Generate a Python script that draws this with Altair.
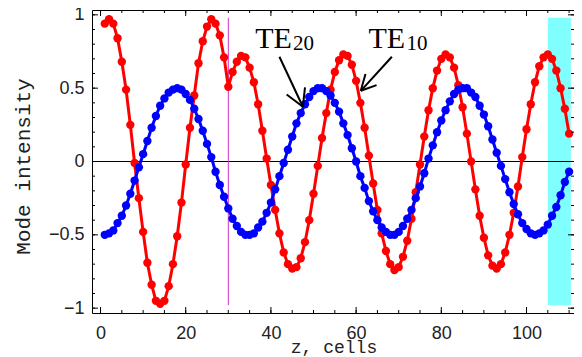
import altair as alt
import pandas as pd

# ---------------- data ----------------
z_cells = list(range(1, 111))

te10 = [0.94, 0.97, 0.94, 0.84, 0.68, 0.49, 0.25, -0.01, -0.25, -0.48,
        -0.69, -0.84, -0.95, -0.97, -0.95, -0.85, -0.70, -0.51, -0.28, -0.02,
        0.23, 0.45, 0.67, 0.82, 0.92, 0.97, 0.94, 0.86, 0.71, 0.51,
        0.61, 0.68, 0.72, 0.71, 0.64, 0.54, 0.39, 0.21, 0.02, -0.16,
        -0.33, -0.49, -0.62, -0.70, -0.73, -0.72, -0.66, -0.55, -0.40, -0.22,
        -0.03, 0.16, 0.33, 0.49, 0.61, 0.69, 0.73, 0.72, 0.66, 0.55,
        0.40, 0.23, 0.04, -0.15, -0.33, -0.49, -0.61, -0.70, -0.74, -0.72,
        -0.65, -0.54, -0.39, -0.21, -0.02, 0.17, 0.35, 0.50, 0.62, 0.70,
        0.73, 0.71, 0.64, 0.52, 0.37, 0.19, 0.00, -0.19, -0.37, -0.52,
        -0.64, -0.71, -0.73, -0.70, -0.62, -0.50, -0.35, -0.17, 0.03, 0.22,
        0.39, 0.54, 0.65, 0.71, 0.73, 0.70, 0.62, 0.50, 0.36, 0.19]

te20 = [-0.50, -0.49, -0.47, -0.42, -0.37, -0.30, -0.22, -0.13, -0.04, 0.05,
        0.14, 0.23, 0.31, 0.38, 0.43, 0.47, 0.49, 0.50, 0.49, 0.46,
        0.42, 0.36, 0.29, 0.21, 0.12, 0.03, -0.07, -0.16, -0.24, -0.32,
        -0.39, -0.44, -0.48, -0.50, -0.50, -0.49, -0.45, -0.41, -0.35, -0.28,
        -0.19, -0.10, -0.01, 0.08, 0.17, 0.26, 0.33, 0.39, 0.44, 0.48,
        0.50, 0.50, 0.48, 0.45, 0.40, 0.34, 0.26, 0.18, 0.09, 0.00,
        -0.10, -0.18, -0.27, -0.34, -0.40, -0.45, -0.48, -0.50, -0.50, -0.48,
        -0.44, -0.39, -0.33, -0.25, -0.17, -0.08, 0.02, 0.11, 0.20, 0.28,
        0.35, 0.41, 0.46, 0.49, 0.50, 0.50, 0.47, 0.44, 0.38, 0.32,
        0.24, 0.15, 0.06, -0.03, -0.12, -0.21, -0.29, -0.36, -0.42, -0.46,
        -0.49, -0.50, -0.49, -0.47, -0.43, -0.37, -0.31, -0.23, -0.14, -0.07]

x_major = [0, 20, 40, 60, 80, 100]
x_minor = [0, 5, 10, 15, 20, 25, 30, 35, 40, 45, 50, 55, 60, 65, 70, 75, 80,
           85, 90, 95, 100, 105, 110]
y_major = [-1, -0.5, 0, 0.5, 1]
y_minor = [-1, -0.9, -0.8, -0.7, -0.6, -0.5, -0.4, -0.3, -0.2, -0.1, 0,
           0.1, 0.2, 0.3, 0.4, 0.5, 0.6, 0.7, 0.8, 0.9, 1]

marker_z = [30]
marker_v = [-0.98]
marker_v2 = [0.98]

band_z = [105]
band_z2 = [110.4]
band_v = [-0.98]
band_v2 = [0.98]

label_main = ["TE", "TE"]
label_main_z = [36.3, 62.9]
label_main_v = [0.771, 0.771]
label_sub = ["20", "10"]
label_sub_z = [45.2, 71.8]
label_sub_v = [0.76, 0.76]

# arrow segments (shaft + two head arms) for TE20 and TE10
arrow_z = [42.0, 47.5, 47.5, 68.4, 61.1, 61.1]
arrow_v = [0.714, 0.373, 0.373, 0.714, 0.482, 0.482]
arrow_z2 = [47.5, 43.7, 48.0, 61.1, 64.8, 62.2]
arrow_v2 = [0.373, 0.457, 0.505, 0.482, 0.521, 0.596]

# ---------------- chart ----------------
W, H = 482, 303
xs = alt.Scale(domain=[-2, 111.15], nice=False, zero=False)
ys = alt.Scale(domain=[-1.033, 1.033], nice=False, zero=False)

xaxis = alt.Axis(values=x_major, format="d", ticks=False, domain=False, grid=False,
                 labelFont="Liberation Sans", labelFontSize=18, labelColor="#222",
                 labelPadding=11, labelFlush=False,
                 title="z, cells", titleFont="Liberation Mono", titleFontSize=18,
                 titleFontWeight="normal", titleColor="#222",
                 titleAlign="center", titleBaseline="alphabetic",
                 titleX=241.5, titleY=39)
yaxis = alt.Axis(values=y_major, format="~g", ticks=False, domain=False, grid=False,
                 labelFont="Liberation Sans", labelFontSize=18, labelColor="#222",
                 labelPadding=8, labelFlush=False,
                 title="Mode intensity", titleFont="Liberation Mono", titleFontSize=21,
                 titleFontWeight="normal", titleColor="#222",
                 titleAlign="center", titleBaseline="middle", titleAngle=270,
                 titleX=-69, titleY=156)

X = alt.X("z:Q", scale=xs, axis=xaxis)
Y = alt.Y("v:Q", scale=ys, axis=yaxis)

df_red = pd.DataFrame({"z": z_cells, "v": te10})
df_blue = pd.DataFrame({"z": z_cells, "v": te20})

band = alt.Chart(pd.DataFrame({"z": band_z, "z2": band_z2, "v": band_v, "v2": band_v2})).mark_rect(
    color="#80ffff").encode(x=X, x2="z2:Q", y=Y, y2="v2:Q")

zero_line = alt.Chart(pd.DataFrame({"v": [0]})).mark_rule(color="black", strokeWidth=1).encode(y=Y)

marker = alt.Chart(pd.DataFrame({"z": marker_z, "v": marker_v, "v2": marker_v2})).mark_rule(
    color="#cc33cc", strokeWidth=1).encode(x=X, y=Y, y2="v2:Q")

red_line = alt.Chart(df_red).mark_line(color="#ff0000", strokeWidth=3).encode(x=X, y=Y)
red_pts = alt.Chart(df_red).mark_circle(color="#ff0000", size=70, opacity=1).encode(x=X, y=Y)
blue_line = alt.Chart(df_blue).mark_line(color="#0000ff", strokeWidth=3).encode(x=X, y=Y)
blue_pts = alt.Chart(df_blue).mark_circle(color="#0000ff", size=70, opacity=1).encode(x=X, y=Y)

arrows = alt.Chart(pd.DataFrame({"z": arrow_z, "v": arrow_v, "z2": arrow_z2, "v2": arrow_v2})).mark_rule(
    color="black", strokeWidth=2).encode(x=X, y=Y, x2="z2:Q", y2="v2:Q")

txt_main = alt.Chart(pd.DataFrame({"z": label_main_z, "v": label_main_v, "t": label_main})).mark_text(
    font="Liberation Serif", fontSize=30, align="left", baseline="alphabetic", color="black"
).encode(x=X, y=Y, text="t:N")
txt_sub = alt.Chart(pd.DataFrame({"z": label_sub_z, "v": label_sub_v, "t": label_sub})).mark_text(
    font="Liberation Serif", fontSize=21, align="left", baseline="alphabetic", color="black"
).encode(x=X, y=Y, text="t:N")

# inward frame ticks on all four sides
df_xmaj = pd.DataFrame({"z": x_major})
df_xmin = pd.DataFrame({"z": x_minor})
df_ymaj = pd.DataFrame({"v": y_major})
df_ymin = pd.DataFrame({"v": y_minor})
tk = dict(color="black", strokeWidth=1)
ticks = [
    alt.Chart(df_xmaj).mark_rule(**tk).encode(x=X, y=alt.value(H), y2=alt.value(H - 6)),
    alt.Chart(df_xmin).mark_rule(**tk).encode(x=X, y=alt.value(H), y2=alt.value(H - 3)),
    alt.Chart(df_xmaj).mark_rule(**tk).encode(x=X, y=alt.value(0), y2=alt.value(6)),
    alt.Chart(df_xmin).mark_rule(**tk).encode(x=X, y=alt.value(0), y2=alt.value(3)),
    alt.Chart(df_ymaj).mark_rule(**tk).encode(y=Y, x=alt.value(0), x2=alt.value(6)),
    alt.Chart(df_ymin).mark_rule(**tk).encode(y=Y, x=alt.value(0), x2=alt.value(3)),
    alt.Chart(df_ymaj).mark_rule(**tk).encode(y=Y, x=alt.value(W), x2=alt.value(W - 6)),
    alt.Chart(df_ymin).mark_rule(**tk).encode(y=Y, x=alt.value(W), x2=alt.value(W - 3)),
]

chart = alt.layer(
    band, zero_line, marker, red_line, red_pts, blue_line, blue_pts,
    arrows, txt_main, txt_sub, *ticks
).properties(
    width=W, height=H,
    autosize=alt.AutoSizeParams(type="none"),
    padding={"left": 84, "top": 2, "right": 0, "bottom": 44},
).configure_view(stroke="black", strokeWidth=1)

chart.save("out.html", embed_options={"renderer": "svg", "actions": False})
